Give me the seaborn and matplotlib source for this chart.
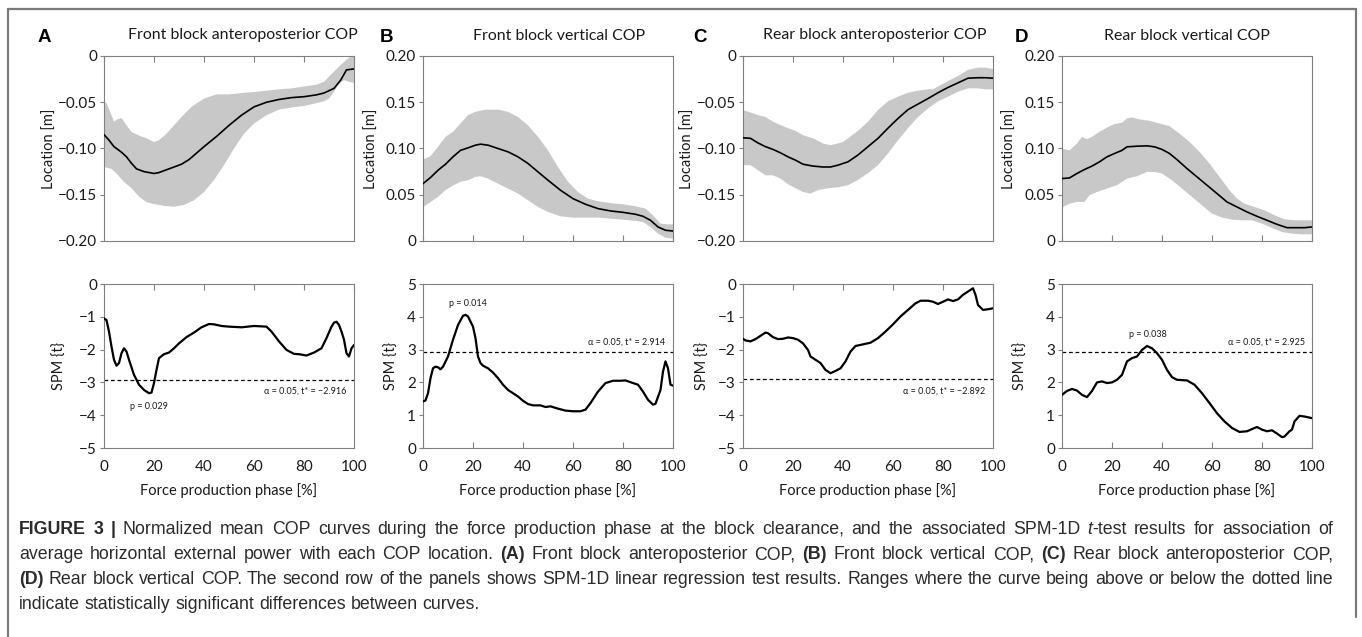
import numpy as np
import pandas as pd
import matplotlib
matplotlib.use("Agg")
import matplotlib.pyplot as plt
import seaborn as sns
from matplotlib.ticker import FixedLocator, FixedFormatter

# ---------------- data ----------------
x_ticks = [0, 20, 40, 60, 80, 100]
x_ticklabels = ["0", "20", "40", "60", "80", "100"]

titles = ["Front block anteroposterior COP", "Front block vertical COP",
          "Rear block anteroposterior COP", "Rear block vertical COP"]
letters = ["A", "B", "C", "D"]

neg_loc_ticks = [0, -0.05, -0.10, -0.15, -0.20]
neg_loc_labels = ["0", "\u22120.05", "\u22120.10", "\u22120.15", "\u22120.20"]
pos_loc_ticks = [0, 0.05, 0.10, 0.15, 0.20]
pos_loc_labels = ["0", "0.05", "0.10", "0.15", "0.20"]
neg_spm_ticks = [0, -1, -2, -3, -4, -5]
neg_spm_labels = ["0", "\u22121", "\u22122", "\u22123", "\u22124", "\u22125"]
pos_spm_ticks = [0, 1, 2, 3, 4, 5]
pos_spm_labels = ["0", "1", "2", "3", "4", "5"]

# Panel A (top): mean and band
A_mean_x = [0, 2, 4, 5, 7, 9, 11, 13, 16, 18, 20, 22, 25, 28, 31, 34, 37, 40, 45, 50,
            55, 60, 65, 70, 75, 80, 85, 88, 92, 94.7, 97, 100]
A_mean_y = [-0.085, -0.091, -0.098, -0.100, -0.104, -0.109, -0.116, -0.122, -0.125, -0.126,
            -0.127, -0.126, -0.123, -0.120, -0.117, -0.112, -0.105, -0.098, -0.087, -0.075,
            -0.064, -0.055, -0.050, -0.047, -0.045, -0.044, -0.042, -0.040, -0.035, -0.026,
            -0.015, -0.014]
A_up_x = [0, 1, 3, 4, 5, 7, 9, 11, 14, 17, 20, 22, 25, 28, 31, 35, 40, 45, 50, 55, 60,
          65, 70, 75, 80, 85, 88, 91, 94, 97, 99, 100]
A_up_y = [-0.049, -0.051, -0.064, -0.071, -0.069, -0.067, -0.075, -0.082, -0.086, -0.089,
          -0.093, -0.091, -0.084, -0.075, -0.066, -0.055, -0.046, -0.0415, -0.0415, -0.040,
          -0.039, -0.0375, -0.036, -0.035, -0.033, -0.031, -0.028, -0.0195, -0.0115, -0.004,
          0.0, 0.0]
A_lo_x = [0, 3, 5, 8, 11, 14, 17, 20, 24, 28, 32, 36, 40, 44, 48, 52, 56, 60, 65, 70, 75,
          80, 85, 88, 90, 92, 94, 96, 98, 100]
A_lo_y = [-0.120, -0.122, -0.127, -0.136, -0.143, -0.152, -0.158, -0.160, -0.162, -0.163,
          -0.161, -0.156, -0.147, -0.134, -0.118, -0.100, -0.084, -0.073, -0.064, -0.058,
          -0.0556, -0.054, -0.051, -0.049, -0.046, -0.0386, -0.030, -0.026, -0.028, -0.029]

# Panel B (top)
B_mean_x = [0, 3, 6, 9, 12, 15, 18, 21, 23, 26, 30, 34, 38, 42, 46, 50, 55, 60, 65, 70,
            75, 80, 85, 88, 91, 94, 97, 100]
B_mean_y = [0.062, 0.0686, 0.0765, 0.083, 0.091, 0.098, 0.1007, 0.1036, 0.1047, 0.1036,
            0.100, 0.0964, 0.091, 0.0838, 0.0747, 0.0657, 0.0549, 0.0458, 0.0397, 0.035,
            0.0325, 0.031, 0.0289, 0.0267, 0.0224, 0.0152, 0.0116, 0.0108]
B_up_x = [0, 3, 6, 9, 12, 15, 18, 21, 25, 30, 34, 38, 42, 46, 50, 54, 58, 62, 66, 70, 75,
          80, 85, 89, 92, 95, 98, 100]
B_up_y = [0.088, 0.0917, 0.1018, 0.1126, 0.118, 0.127, 0.136, 0.1397, 0.142, 0.142, 0.1397,
          0.134, 0.125, 0.1126, 0.098, 0.080, 0.064, 0.053, 0.0458, 0.043, 0.041, 0.0397,
          0.0375, 0.035, 0.0278, 0.0188, 0.018, 0.018]
B_lo_x = [0, 3, 6, 9, 12, 15, 18, 21, 23, 26, 30, 34, 38, 42, 46, 50, 55, 60, 65, 70, 75,
          80, 85, 88, 91, 94, 97, 100]
B_lo_y = [0.0368, 0.042, 0.0477, 0.055, 0.060, 0.064, 0.0657, 0.0693, 0.070, 0.0675, 0.062,
          0.0567, 0.0513, 0.044, 0.0368, 0.0314, 0.0267, 0.0253, 0.0253, 0.0253, 0.0242,
          0.0231, 0.0217, 0.0206, 0.0152, 0.008, 0.0036, 0.0025]

# Panel C (top)
C_mean_x = [0, 3, 6, 9, 12, 15, 18, 21, 24, 28, 32, 35, 38, 42, 46, 50, 54, 58, 62, 66,
            70, 74, 78, 82, 86, 90, 94, 97, 100]
C_mean_y = [-0.0884, -0.089, -0.094, -0.098, -0.101, -0.1047, -0.109, -0.1126, -0.117,
            -0.119, -0.120, -0.120, -0.118, -0.1144, -0.107, -0.098, -0.089, -0.078,
            -0.0675, -0.058, -0.052, -0.046, -0.0397, -0.034, -0.029, -0.024, -0.0235,
            -0.0235, -0.024]
C_up_x = [0, 3, 6, 9, 12, 15, 18, 21, 24, 28, 32, 35, 38, 40, 43, 46, 50, 54, 58, 62, 66,
          70, 74, 76, 78, 82, 86, 90, 94, 97, 100]
C_up_y = [-0.0585, -0.061, -0.064, -0.066, -0.071, -0.0747, -0.078, -0.081, -0.0856, -0.089,
          -0.0946, -0.0964, -0.0946, -0.093, -0.087, -0.081, -0.071, -0.0585, -0.049, -0.044,
          -0.0397, -0.0375, -0.036, -0.036, -0.033, -0.027, -0.0217, -0.015, -0.0126,
          -0.0126, -0.014]
C_lo_x = [0, 3, 6, 9, 12, 15, 18, 21, 24, 27, 30, 34, 38, 42, 46, 50, 54, 58, 62, 66, 70,
          74, 78, 82, 86, 90, 94, 97, 100]
C_lo_y = [-0.118, -0.118, -0.1235, -0.129, -0.129, -0.1325, -0.1386, -0.143, -0.147,
          -0.1487, -0.145, -0.143, -0.142, -0.1397, -0.134, -0.1267, -0.118, -0.1054,
          -0.091, -0.078, -0.066, -0.0567, -0.049, -0.044, -0.0386, -0.035, -0.035, -0.036,
          -0.036]

# Panel D (top)
D_mean_x = [0, 3, 6, 9, 12, 15, 18, 21, 24, 26, 30, 34, 37, 40, 43, 46, 50, 54, 58, 62,
            66, 70, 74, 78, 82, 86, 90, 94, 97, 100]
D_mean_y = [0.0675, 0.0682, 0.073, 0.0773, 0.081, 0.0856, 0.091, 0.0946, 0.098, 0.1018,
            0.1025, 0.1029, 0.1018, 0.099, 0.0946, 0.088, 0.0783, 0.0693, 0.0603, 0.0513,
            0.0422, 0.0368, 0.0314, 0.0267, 0.0224, 0.018, 0.0144, 0.0144, 0.0144, 0.0152]
D_up_x = [0, 3, 6, 8, 10, 12, 15, 18, 21, 24, 26, 28, 31, 35, 39, 43, 47, 51, 55, 59, 63,
          67, 70, 73, 77, 81, 85, 89, 93, 97, 100]
D_up_y = [0.100, 0.098, 0.1054, 0.1126, 0.110, 0.1126, 0.118, 0.1227, 0.1264, 0.1278,
          0.1325, 0.1336, 0.1314, 0.130, 0.127, 0.1242, 0.116, 0.1072, 0.0964, 0.0838,
          0.0693, 0.0549, 0.0458, 0.0404, 0.0368, 0.0332, 0.0278, 0.0235, 0.0224, 0.0224,
          0.0224]
D_lo_x = [0, 3, 6, 9, 11, 14, 18, 22, 26, 30, 34, 37, 40, 44, 48, 52, 56, 60, 64, 68, 72,
          76, 80, 84, 88, 92, 96, 100]
D_lo_y = [0.0361, 0.0404, 0.0422, 0.0422, 0.0495, 0.053, 0.0567, 0.0603, 0.0675, 0.070,
          0.0747, 0.0747, 0.073, 0.0657, 0.0567, 0.0477, 0.0386, 0.0296, 0.0253, 0.0231,
          0.0224, 0.0224, 0.0188, 0.0141, 0.0097, 0.008, 0.0072, 0.0072]

# SPM {t} curves (bottom row)
A_spm_x = [0, 1, 2, 3, 4, 5, 6, 7, 8, 9, 10, 12, 14, 16, 18, 19, 20, 21, 22, 24, 26, 28,
           30, 33, 36, 39, 42, 44, 47, 50, 55, 60, 65, 67, 70, 73, 76, 78, 81, 84, 87, 89,
           91, 92, 93, 94, 95, 96, 97, 98, 99, 100]
A_spm_y = [-1.045, -1.10, -1.45, -1.91, -2.31, -2.49, -2.41, -2.11, -1.96, -2.06, -2.31,
           -2.77, -3.07, -3.23, -3.33, -3.31, -3.02, -2.62, -2.26, -2.14, -2.09, -1.96,
           -1.81, -1.62, -1.48, -1.32, -1.22, -1.23, -1.28, -1.30, -1.32, -1.28, -1.30,
           -1.45, -1.75, -2.01, -2.13, -2.14, -2.18, -2.09, -1.96, -1.65, -1.30, -1.18,
           -1.15, -1.25, -1.45, -1.70, -2.11, -2.21, -1.96, -1.86]
B_spm_x = [0, 1, 2, 3, 4, 5, 6, 7, 8, 10, 12, 14, 16, 17, 18, 20, 21, 22, 23, 24, 26, 28,
           30, 32, 34, 36, 38, 40, 42, 44, 47, 49, 51, 54, 57, 60, 63, 65, 67, 70, 73, 76,
           79, 81, 84, 86, 88, 90, 92, 93, 95, 96, 97, 98, 99, 100]
B_spm_y = [1.42, 1.45, 1.67, 2.13, 2.43, 2.48, 2.46, 2.40, 2.48, 2.79, 3.30, 3.75, 4.03,
           4.06, 4.01, 3.70, 3.35, 2.79, 2.59, 2.51, 2.43, 2.30, 2.13, 1.93, 1.77, 1.67,
           1.57, 1.44, 1.34, 1.30, 1.30, 1.25, 1.27, 1.20, 1.14, 1.12, 1.12, 1.17, 1.37,
           1.72, 1.98, 2.05, 2.05, 2.06, 1.98, 1.93, 1.72, 1.47, 1.32, 1.35, 1.77, 2.33,
           2.64, 2.43, 1.93, 1.90]
C_spm_x = [0, 1, 3, 5, 7, 9, 10, 12, 14, 16, 18, 20, 22, 24, 26, 27, 29, 31, 33, 35, 37,
           39, 41, 43, 45, 48, 51, 54, 57, 60, 63, 66, 69, 71, 74, 76, 78, 80, 82, 84, 86,
           88, 90, 92, 93, 94, 96, 98, 100]
C_spm_y = [-1.67, -1.72, -1.75, -1.68, -1.58, -1.48, -1.50, -1.62, -1.68, -1.67, -1.63,
           -1.65, -1.70, -1.81, -2.01, -2.21, -2.31, -2.41, -2.62, -2.72, -2.65, -2.57,
           -2.36, -2.06, -1.89, -1.84, -1.79, -1.65, -1.45, -1.23, -0.99, -0.79, -0.59,
           -0.51, -0.51, -0.54, -0.61, -0.54, -0.47, -0.52, -0.47, -0.33, -0.23, -0.13,
           -0.33, -0.64, -0.79, -0.77, -0.74]
D_spm_x = [0, 2, 4, 6, 8, 10, 12, 14, 16, 18, 20, 22, 24, 26, 28, 30, 32, 34, 36, 38, 40,
           42, 44, 46, 50, 53, 56, 59, 62, 65, 68, 71, 74, 77, 78, 80, 82, 84, 86, 88, 89,
           91, 92, 93, 95, 97, 100]
D_spm_y = [1.62, 1.74, 1.80, 1.75, 1.62, 1.55, 1.74, 2.00, 2.03, 1.98, 2.00, 2.08, 2.23,
           2.64, 2.74, 2.79, 2.99, 3.11, 3.04, 2.89, 2.69, 2.38, 2.16, 2.08, 2.06, 1.93,
           1.67, 1.37, 1.06, 0.81, 0.61, 0.49, 0.51, 0.61, 0.64, 0.56, 0.51, 0.54, 0.44,
           0.33, 0.35, 0.51, 0.56, 0.81, 0.98, 0.96, 0.91]

thresholds = [-2.916, 2.914, -2.892, 2.925]
thr_labels = ["\u03b1 = 0.05, t* = \u22122.916", "\u03b1 = 0.05, t* = 2.914",
              "\u03b1 = 0.05, t* = \u22122.892", "\u03b1 = 0.05, t* = 2.925"]
thr_label_y = [-3.28, 3.22, -3.28, 3.22]
p_labels = ["p = 0.029", "p = 0.014", None, "p = 0.038"]
p_label_xy = [(10.5, -3.72), (10.3, 4.42), None, (26.7, 3.46)]

caption_lines = [
    [("FIGURE 3 |", "bold", "normal"),
     (" Normalized mean COP curves during the force production phase at the block clearance, and the associated SPM-1D ", "normal", "normal"),
     ("t", "normal", "italic"),
     ("-test results for association of", "normal", "normal")],
    [("average horizontal external power with each COP location. ", "normal", "normal"),
     ("(A)", "bold", "normal"),
     (" Front block anteroposterior COP, ", "normal", "normal"),
     ("(B)", "bold", "normal"),
     (" Front block vertical COP, ", "normal", "normal"),
     ("(C)", "bold", "normal"),
     (" Rear block anteroposterior COP,", "normal", "normal")],
    [("(D)", "bold", "normal"),
     (" Rear block vertical COP. The second row of the panels shows SPM-1D linear regression test results. Ranges where the curve being above or below the dotted line", "normal", "normal")],
    [("indicate statistically significant differences between curves.", "normal", "normal")],
]
caption_justified = [True, True, True, False]

# ---------------- style ----------------
sns.set_theme(style="white")
plt.rcParams["font.family"] = ["Lato", "DejaVu Sans"]

W, H = 1362, 637
fig = plt.figure(figsize=(W / 100, H / 100), dpi=100)
fig.patch.set_facecolor("white")

lefts_px = [104, 423, 743, 1062]
ax_w_px = 250
top_row = (56, 241)
bot_row = (284, 448)
top_ylab_off = [47, 44, 48, 45]
bot_ylab_off = [37, 24, 33, 34]

BAND = "#c8c8c8"
TXT = "#1a1a1a"
SPINE = "#808080"
FS_TICK = 11
FS_LAB = 10.5


def make_ax(left_px, row):
    t, b = row
    return fig.add_axes([left_px / W, 1 - b / H, ax_w_px / W, (b - t) / H])


top_data = [
    (A_mean_x, A_mean_y, A_up_x, A_up_y, A_lo_x, A_lo_y, neg_loc_ticks, neg_loc_labels, (-0.20, 0)),
    (B_mean_x, B_mean_y, B_up_x, B_up_y, B_lo_x, B_lo_y, pos_loc_ticks, pos_loc_labels, (0, 0.20)),
    (C_mean_x, C_mean_y, C_up_x, C_up_y, C_lo_x, C_lo_y, neg_loc_ticks, neg_loc_labels, (-0.20, 0)),
    (D_mean_x, D_mean_y, D_up_x, D_up_y, D_lo_x, D_lo_y, pos_loc_ticks, pos_loc_labels, (0, 0.20)),
]
bot_data = [
    (A_spm_x, A_spm_y, neg_spm_ticks, neg_spm_labels, (-5, 0)),
    (B_spm_x, B_spm_y, pos_spm_ticks, pos_spm_labels, (0, 5)),
    (C_spm_x, C_spm_y, neg_spm_ticks, neg_spm_labels, (-5, 0)),
    (D_spm_x, D_spm_y, pos_spm_ticks, pos_spm_labels, (0, 5)),
]


def style_axis(ax, yticks, ylabels, ylim, negative, show_xlabels):
    ax.set_xlim(0, 100)
    ax.set_ylim(*ylim)
    ax.xaxis.set_major_locator(FixedLocator(x_ticks))
    ax.yaxis.set_major_locator(FixedLocator(yticks))
    ax.yaxis.set_major_formatter(FixedFormatter(ylabels))
    if show_xlabels:
        ax.xaxis.set_major_formatter(FixedFormatter(x_ticklabels))
    ax.tick_params(axis="y", direction="out", length=3, width=0.8, color=SPINE,
                   left=True, labelsize=FS_TICK, labelcolor=TXT, pad=2)
    ax.tick_params(axis="x", direction="in", length=4, width=0.8, color=SPINE,
                   top=negative, bottom=not negative,
                   labelbottom=show_xlabels, labeltop=False,
                   labelsize=FS_TICK, labelcolor=TXT, pad=8.5)
    for s in ax.spines.values():
        s.set_visible(True)
        s.set_color(SPINE)
        s.set_linewidth(0.8)
    ax.set_xlabel("")
    ax.set_ylabel("")


for i in range(4):
    mx, my, ux, uy, lx, ly, yt, yl, ylim = top_data[i]
    ax = make_ax(lefts_px[i], top_row)
    poly_x = np.concatenate([np.array(ux, float), np.array(lx, float)[::-1]])
    poly_y = np.concatenate([np.array(uy, float), np.array(ly, float)[::-1]])
    ax.fill(poly_x, poly_y, color=BAND, lw=0, zorder=1)
    sns.lineplot(x=mx, y=my, ax=ax, color="black", linewidth=1.2, zorder=3)
    style_axis(ax, yt, yl, ylim, negative=(ylim[1] == 0), show_xlabels=False)
    ax.set_ylabel("Location [m]", fontsize=FS_LAB, color=TXT)
    ax.yaxis.set_label_coords(-top_ylab_off[i] / ax_w_px, 0.5)

    sx, sy, st, sl, slim = bot_data[i]
    bx = make_ax(lefts_px[i], bot_row)
    sns.lineplot(x=sx, y=sy, ax=bx, color="black", linewidth=1.6, zorder=3)
    bx.axhline(thresholds[i], color="black", lw=0.9, ls=(0, (3, 2.2)), zorder=2)
    style_axis(bx, st, sl, slim, negative=(slim[1] == 0), show_xlabels=True)
    bx.set_ylabel("SPM {t}", fontsize=FS_LAB, color=TXT)
    bx.yaxis.set_label_coords(-bot_ylab_off[i] / ax_w_px, 0.5)
    bx.set_xlabel("Force production phase [%]", fontsize=FS_LAB, color=TXT, labelpad=7)
    bx.text(97, thr_label_y[i], thr_labels[i], fontsize=6.5, color=TXT,
            ha="right", va="center")
    if p_labels[i] is not None:
        bx.text(p_label_xy[i][0], p_label_xy[i][1], p_labels[i], fontsize=6.5,
                color=TXT, ha="left", va="center")

# titles and panel letters
title_cx = [243, 559, 875, 1187]
letter_x = [38, 380, 693, 1015]
for i in range(4):
    fig.text(title_cx[i] / W, 1 - 39.5 / H, titles[i], ha="center", va="baseline",
             fontsize=11.4, color=TXT)
    fig.text(letter_x[i] / W, 1 - 41.5 / H, letters[i], ha="left", va="baseline",
             fontsize=13.5, fontweight="bold", color="black",
             family=["Liberation Sans", "DejaVu Sans"])

# border
border_col = "#7a7a7a"
fig.add_artist(plt.Line2D([8 / W, 8 / W], [0, 1 - 9 / H], color=border_col, lw=1.6))
fig.add_artist(plt.Line2D([1356 / W, 1356 / W], [1 - 617 / H, 1 - 9 / H], color=border_col, lw=1.6))
fig.add_artist(plt.Line2D([8 / W, 1356 / W], [1 - 9 / H, 1 - 9 / H], color=border_col, lw=1.6))

# caption: rich text, word by word, justified lines
renderer = fig.canvas.get_renderer()
CAP_FS = 12.8
CAP_FAM = ["Liberation Sans", "DejaVu Sans"]
CAP_COL = "#2b2b2b"
CAP_LEFT = 19.0
CAP_RIGHT = 1333.0


def make_text(s, weight, style, x=0.0, base=0.0):
    return fig.text(x / W, 1 - base / H, s, fontsize=CAP_FS, fontweight=weight,
                    fontstyle=style, family=CAP_FAM, color=CAP_COL,
                    ha="left", va="baseline")


def width_of(s):
    t = make_text(s, "normal", "normal")
    w = t.get_window_extent(renderer).width
    t.remove()
    return w


space_w = width_of("a a") - width_of("aa")

baselines = [534, 559, 584, 609]
for line, base, just in zip(caption_lines, baselines, caption_justified):
    tokens = []  # (text, weight, style, space_before)
    pending_space = False
    for s, weight, style in line:
        words = s.split(" ")
        for k, w in enumerate(words):
            if w == "":
                if k == 0 or k == len(words) - 1:
                    pending_space = True
                continue
            sb = (k > 0) or pending_space or s.startswith(" ")
            if not tokens:
                sb = False
            tokens.append([w, weight, style, sb])
            pending_space = False
        if s.endswith(" "):
            pending_space = True
    artists = []
    widths = []
    for w, weight, style, sb in tokens:
        t = make_text(w, weight, style, 0, base)
        artists.append(t)
        widths.append(t.get_window_extent(renderer).width)
    n_sp = sum(1 for tk in tokens if tk[3])
    gap = space_w
    if just and n_sp > 0:
        gap = (CAP_RIGHT - CAP_LEFT - sum(widths)) / n_sp
    x = CAP_LEFT
    for (w, weight, style, sb), t, wd in zip(tokens, artists, widths):
        if sb:
            x += gap
        t.set_x(x / W)
        x += wd

fig.savefig("out.png", dpi=100, facecolor="white")
